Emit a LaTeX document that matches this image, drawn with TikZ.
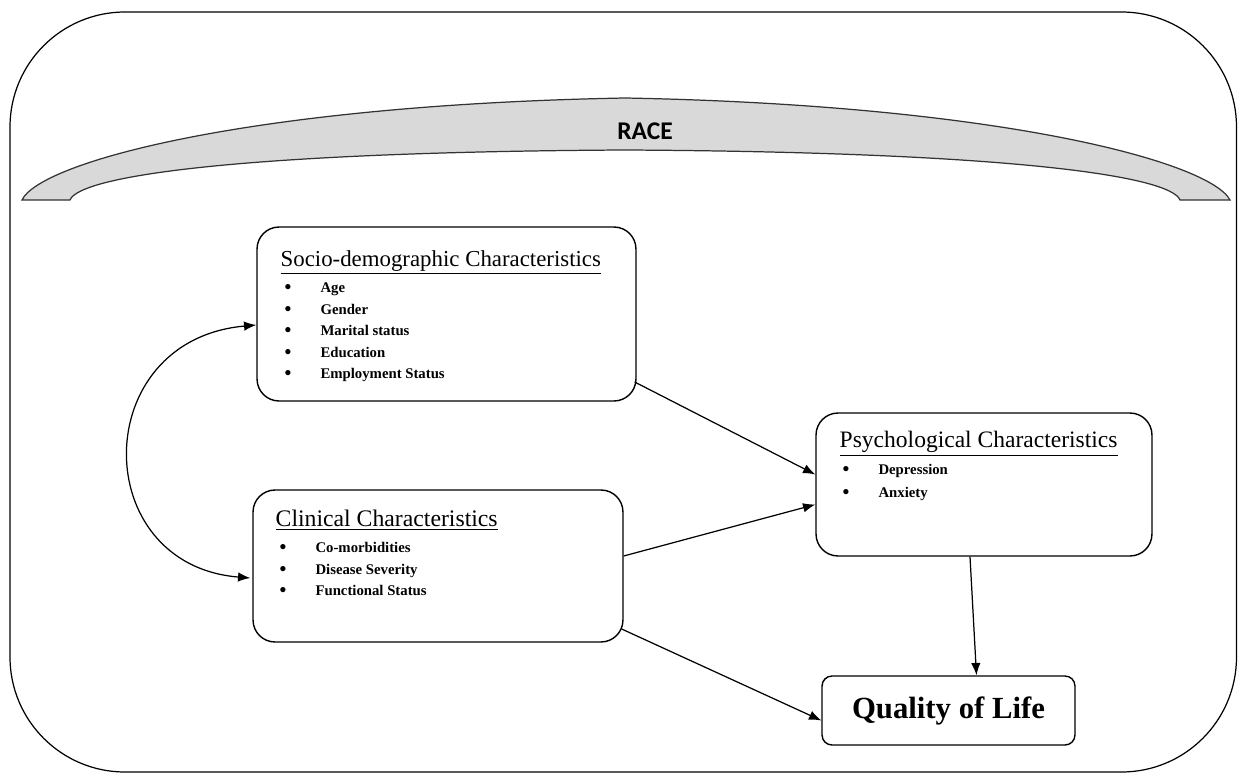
\documentclass[tikz,border=0pt]{standalone}
\usepackage{fontspec}
\setmainfont{Liberation Serif}
\newfontfamily\racefont{Carlito}
\usepackage{tikz}
\usetikzlibrary{positioning,calc,arrows,arrows.meta}
\tikzset{
	cadre/.style={draw, line width=0.8pt, rounded corners=0.44cm},
	titre/.style={inner sep=0pt, anchor=base west, font=\fontsize{13}{15}\selectfont},
	puce/.style={inner sep=0pt, anchor=base west, font=\bfseries\fontsize{8.4}{10}\selectfont},
	fleche/.style={-{Latex[length=7pt,width=5.4pt]}, line width=0.7pt}
}
\newcommand{\pt}{\makebox[20.4pt][l]{\fontsize{11}{10}\selectfont\raisebox{-0.6pt}{\textbullet}}}

\begin{document}
\begin{tikzpicture}[x=0.02cm,y=-0.02cm]
\useasboundingbox (0,0) rectangle (1238,774);

%Cadre exterieur
\draw[line width=0.7pt, rounded corners=2.3cm] (10,12) rectangle (1236.5,772);

%Arche RACE
\filldraw[fill=black!15, draw=black!80, line width=0.7pt] (22,200) .. controls (40,162) and (250,105) .. (625,98)
	.. controls (1000,105) and (1210,162) .. (1230,200) -- (1180,200)
	.. controls (1170,175) and (1000,152) .. (625,150)
	.. controls (250,152) and (80,175) .. (70,200) -- cycle;
\node[font=\racefont\bfseries\fontsize{14.5}{16}\selectfont] (race) at (645,131) {RACE};

%Boites
\node[cadre, minimum width=7.58cm, minimum height=3.48cm] (socio) at (446.5,314) {};
\node[cadre, minimum width=7.4cm, minimum height=3.04cm] (clinical) at (438,566) {};
\node[cadre, minimum width=6.72cm, minimum height=2.86cm] (psych) at (984,484.5) {};
\node[cadre, rounded corners=0.2cm, minimum width=5.06cm, minimum height=1.38cm,
	font=\bfseries\fontsize{17.5}{20}\selectfont] (qol) at (948.5,710.5) {Quality of Life};

%Titres
\node[titre] (sociotitre) at ([shift={(24,40)}]socio.north west) {\underline{Socio-demographic Characteristics}};
\node[titre, font=\fontsize{13.5}{15}\selectfont] (clinicaltitre) at ([shift={(23,37)}]clinical.north west) {\underline{Clinical Characteristics}};
\node[titre, font=\fontsize{13.4}{15}\selectfont] (psychtitre) at ([shift={(24,35)}]psych.north west) {\underline{Psychological Characteristics}};

%Listes
\foreach \mot [count=\i] in {Age,Gender,Marital status,Education,Employment Status}
	\node[puce] (socio\i) at ([shift={(4,5+21.5*\i)}]sociotitre.base west) {\pt\mot};
\foreach \mot [count=\i] in {Co-morbidities,Disease Severity,Functional Status}
	\node[puce] (clinical\i) at ([shift={(4,5+21.5*\i)}]clinicaltitre.base west) {\pt\mot};
\foreach \mot [count=\i] in {Depression,Anxiety}
	\node[puce] (psych\i) at ([shift={(3,5+22.5*\i)}]psychtitre.base west) {\pt\mot};

%Liens
\draw[fleche] ($(socio.east)+(-2,68)$) -- ($(psych.west)+(0,-10)$);
\draw[fleche] ($(clinical.east)+(0,-10)$) -- ($(psych.west)+(0,20)$);
\draw[fleche] ($(clinical.east)+(-2,63)$) -- ($(qol.west)+(0,10)$);
\draw[fleche] ($(psych.south)+(-14,0)$) -- ($(qol.north)+(28,0)$);
\draw[fleche, {Latex[length=7pt,width=5.4pt]}-{Latex[length=7pt,width=5.4pt]}] ($(socio.west)+(0,11)$) .. controls (88,340) and (88,565) .. ($(clinical.west)+(-2,12)$);

\end{tikzpicture}
\end{document}
